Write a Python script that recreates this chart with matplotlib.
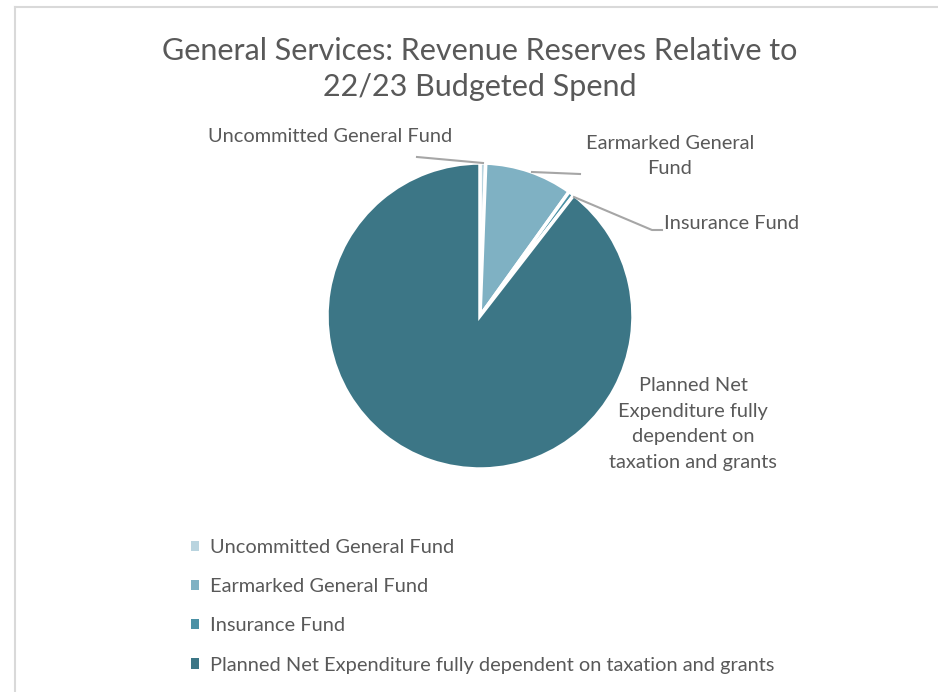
import matplotlib.pyplot as plt
from matplotlib.lines import Line2D

# data (share of 22/23 budgeted spend, %)
labels = ['Uncommitted General Fund', 'Earmarked General Fund', 'Insurance Fund',
          'Planned Net Expenditure fully dependent on taxation and grants']
values = [0.6, 9.3, 0.6, 89.5]
colors = ['#b9d4df', '#7fb1c3', '#4b91a5', '#3c7686']
title = 'General Services: Revenue Reserves Relative to\n22/23 Budgeted Spend'

plt.rcParams['font.family'] = ['Lato', 'DejaVu Sans']
txt = '#595959'
W, H = 938, 692
cx, cy, r = 480, 316, 153   # pie centre / radius in pixels
fs = 14.4


def px(x, y):
    # pixel (from top-left) -> data coords of the pie axes
    return (x - cx) / r, (cy - y) / r


fig = plt.figure(figsize=(W / 100, H / 100), dpi=100)
ax = fig.add_axes([0, 0, 1, 1])
wedges, _ = ax.pie(values, colors=colors, startangle=90, counterclock=False,
                   radius=1, wedgeprops=dict(edgecolor='white', linewidth=2.5))
ax.set_xlim(-cx / r, (W - cx) / r)
ax.set_ylim((cy - H) / r, cy / r)
ax.axis('off')

# chart frame (only top and left visible in the crop)
fig.add_artist(Line2D([15 / W, 15 / W], [0, 1 - 7 / H], color='#d9d9d9', lw=1.5,
                      transform=fig.transFigure))
fig.add_artist(Line2D([15 / W, 1], [1 - 7 / H, 1 - 7 / H], color='#d9d9d9', lw=1.5,
                      transform=fig.transFigure))

fig.text(480 / W, 1 - 69 / H, title, ha='center', va='center', fontsize=22,
         color=txt, linespacing=1.38)

# data labels with leader lines
lc = '#a6a6a6'
ax.plot(*zip(px(417, 157), px(483, 163)), color=lc, lw=1.5)
ax.text(*px(330, 136), labels[0], ha='center', va='center', fontsize=fs, color=txt)

ax.plot(*zip(px(532, 172), px(580, 174)), color=lc, lw=1.5)
ax.text(*px(670, 156), 'Earmarked General\nFund', ha='center', va='center',
        fontsize=fs, color=txt, linespacing=1.6)

ax.plot(*zip(px(574, 197), px(652, 230), px(662, 230)), color=lc, lw=1.5)
ax.text(*px(664, 224), labels[2], ha='left', va='center', fontsize=fs, color=txt)

ax.text(*px(693, 424), 'Planned Net\nExpenditure fully\ndependent on\ntaxation and grants',
        ha='center', va='center', fontsize=fs, color=txt, linespacing=1.62)

leg = ax.legend(wedges, labels, loc='upper left', bbox_to_anchor=(183 / W, 1 - 531 / H),
                bbox_transform=fig.transFigure, frameon=False, fontsize=fs,
                handlelength=0.42, handleheight=0.42, handletextpad=0.55,
                labelspacing=1.11, borderaxespad=0)
for t in leg.get_texts():
    t.set_color(txt)
for h in leg.legend_handles:
    h.set_edgecolor('none')

fig.savefig('out.png', dpi=100, facecolor='white')
